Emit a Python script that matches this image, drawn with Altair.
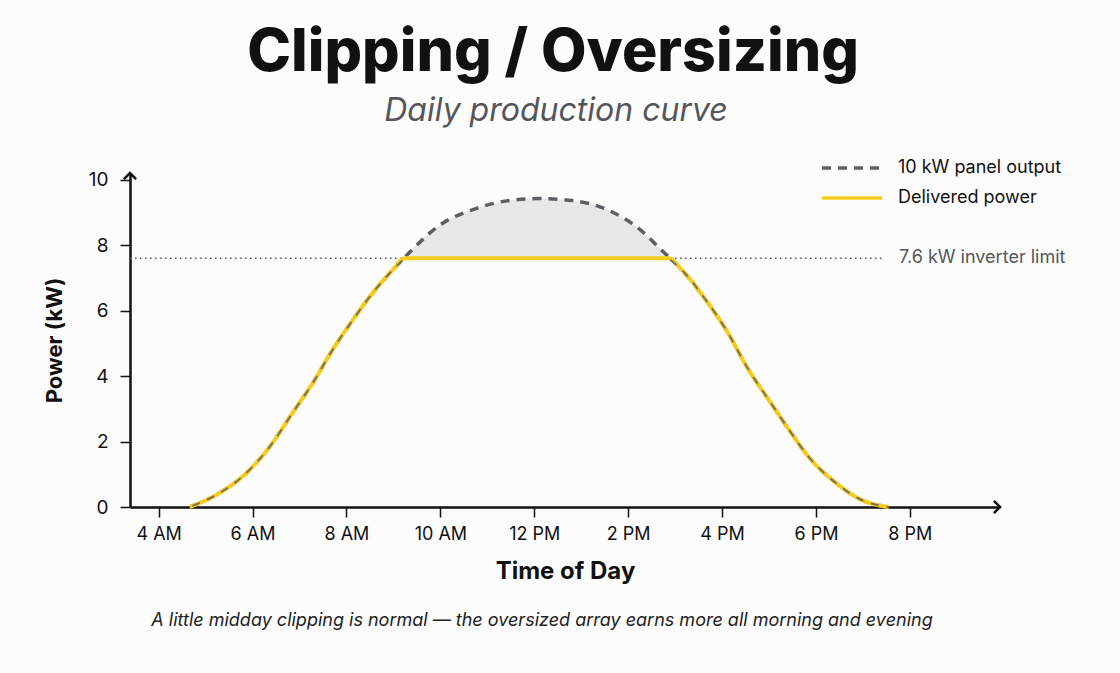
import altair as alt
import pandas as pd

# Panel output of a 10 kW array over the day (hour of day, kW)
panel_hours = [4.66, 5.30, 5.87, 6.36, 6.85, 7.28, 7.70, 8.13, 8.55, 8.98, 9.34,
               9.98, 10.77, 11.47, 12.11, 12.81, 13.60, 14.23, 14.72, 15.15,
               15.66, 16.09, 16.57, 17.00, 17.43, 17.85, 18.43, 18.98, 19.55]
panel_kw = [0.0, 0.43, 1.04, 1.83, 2.87, 3.78, 4.79, 5.70, 6.52, 7.23, 7.77,
            8.60, 9.12, 9.36, 9.42, 9.36, 9.05, 8.50, 7.83, 7.23,
            6.31, 5.40, 4.18, 3.26, 2.35, 1.52, 0.73, 0.21, 0.0]

# Inverter limit and the hours where the array crosses it
inverter_limit = 7.6
clip_start = 9.25
clip_end = 14.85

tick_hours = [4, 6, 8, 10, 12, 14, 16, 18, 20]
tick_labels = ["4 AM", "6 AM", "8 AM", "10 AM", "12 PM", "2 PM", "4 PM", "6 PM", "8 PM"]

PANEL = "10 kW panel output"
DELIVERED = "Delivered power"
LIMIT_LABEL = "7.6 kW inverter limit"

x_min, x_max = 3.39, 21.92
y_min, y_max = 0.0, 10.2
limit_line_end = 19.45
limit_label_x = 19.77

FONT = "Inter"
INK = "#111111"
GREY_LINE = "#5d5e64"
YELLOW = "#f6cb1c"
FILL = "#e7e7e9"

panel = pd.DataFrame({"hour": panel_hours, "kw": panel_kw, "series": PANEL})

# Delivered power: the panel curve capped at the inverter limit
deliv_rows = []
for h, k in zip(panel_hours, panel_kw):
    if h < clip_start or h > clip_end:
        deliv_rows.append((h, k))
deliv_rows += [(clip_start, inverter_limit), (clip_end, inverter_limit)]
deliv_rows.sort()
delivered = pd.DataFrame(deliv_rows, columns=["hour", "kw"])
delivered["series"] = DELIVERED

# Unclipped morning / evening stretches of the panel curve (thin overlay)
edge_rows = [(h, k, "morning" if h < clip_start else "evening")
             for h, k in zip(panel_hours, panel_kw) if h < clip_start or h > clip_end]
edge_rows += [(clip_start, inverter_limit, "morning"), (clip_end, inverter_limit, "evening")]
edges = pd.DataFrame(edge_rows, columns=["hour", "kw", "part"]).sort_values("hour")

# Clipped energy: the part of the panel curve above the limit
clip_rows = [(clip_start, inverter_limit)]
clip_rows += [(h, k) for h, k in zip(panel_hours, panel_kw) if clip_start < h < clip_end]
clip_rows += [(clip_end, inverter_limit)]
clipped = pd.DataFrame(clip_rows, columns=["hour", "kw"])
clipped["limit"] = inverter_limit

label_expr = " : ".join(
    f"datum.value == {h} ? '{t}'" for h, t in zip(tick_hours, tick_labels)
) + " : ''"

x_scale = alt.Scale(domain=[x_min, x_max], nice=False, zero=False)
y_scale = alt.Scale(domain=[y_min, y_max], nice=False)

x_axis = alt.Axis(
    values=tick_hours, labelExpr=label_expr, title="Time of Day",
    grid=False, domainColor=INK, domainWidth=2.5, tickColor=INK, tickWidth=1.5,
    tickSize=10, labelFontSize=18, labelColor=INK, labelFont=FONT, labelPadding=8,
    titleFontSize=24, titleFont=FONT, titleFontWeight="bold", titleColor=INK,
    titlePadding=16,
)
y_axis = alt.Axis(
    values=[0, 2, 4, 6, 8, 10], title="Power (kW)", grid=False,
    domainColor=INK, domainWidth=2.5, tickColor=INK, tickWidth=1.5, tickSize=10,
    labelFontSize=19, labelColor=INK, labelFont=FONT, labelPadding=12,
    titleFontSize=22, titleFont=FONT, titleFontWeight="bold", titleColor=INK,
    titlePadding=22,
)

color_scale = alt.Scale(domain=[PANEL, DELIVERED], range=[GREY_LINE, YELLOW])
dash_scale = alt.Scale(domain=[PANEL, DELIVERED], range=[[9, 7], [1, 0]])
legend = alt.Legend(
    title=None, orient="none", legendX=690, legendY=-20, symbolType="stroke",
    symbolSize=3600, symbolStrokeWidth=3.5, labelFontSize=18, labelFont=FONT,
    labelColor=INK, labelOffset=14, rowPadding=0, clipHeight=30, labelLimit=400,
)

area = alt.Chart(clipped).mark_area(color=FILL, interpolate="monotone").encode(
    x=alt.X("hour:Q", scale=x_scale, axis=x_axis),
    y=alt.Y("kw:Q", scale=y_scale, axis=y_axis),
    y2="limit:Q",
)

limit_df = pd.DataFrame({"x0": [x_min], "x1": [limit_line_end], "kw": [inverter_limit],
                         "lx": [limit_label_x], "label": [LIMIT_LABEL]})
limit_rule = alt.Chart(limit_df).mark_rule(
    color="#555555", strokeWidth=1.5, strokeDash=[1.5, 3.5]
).encode(x="x0:Q", x2="x1:Q", y="kw:Q")
limit_text = alt.Chart(limit_df).mark_text(
    align="left", baseline="middle", fontSize=18, font=FONT, color="#55565b"
).encode(x="lx:Q", y="kw:Q", text="label:N")

panel_line = alt.Chart(panel).mark_line(strokeWidth=3.5, interpolate="monotone").encode(
    x="hour:Q", y="kw:Q",
    color=alt.Color("series:N", scale=color_scale, legend=legend),
    strokeDash=alt.StrokeDash("series:N", scale=dash_scale, legend=legend),
)
deliv_line = alt.Chart(delivered).mark_line(strokeWidth=4, interpolate="monotone").encode(
    x="hour:Q", y="kw:Q",
    color=alt.Color("series:N", scale=color_scale, legend=legend),
    strokeDash=alt.StrokeDash("series:N", scale=dash_scale, legend=legend),
)
edge_line = alt.Chart(edges).mark_line(
    strokeWidth=1.8, interpolate="monotone", color=GREY_LINE, opacity=0.85,
    strokeDash=[8, 8], strokeDashOffset=-3,
).encode(x="hour:Q", y="kw:Q", detail="part:N")

# Arrow heads at the far ends of both axes
arrows = pd.DataFrame({"hour": [x_max, x_min], "kw": [y_min, y_max], "dir": ["right", "up"]})
arrow_right = alt.Chart(arrows[arrows.dir == "right"]).mark_point(
    shape="M-1,-1L0,0L-1,1", size=150, filled=False, stroke=INK, strokeWidth=2.5, opacity=1
).encode(x="hour:Q", y="kw:Q")
arrow_up = alt.Chart(arrows[arrows.dir == "up"]).mark_point(
    shape="M-1,1L0,0L1,1", size=150, filled=False, stroke=INK, strokeWidth=2.5, opacity=1
).encode(x="hour:Q", y="kw:Q")

texts = pd.DataFrame({
    "t": ["Clipping / Oversizing", "Daily production curve",
          "A little midday clipping is normal \u2014 the oversized array earns more all morning and evening"],
})
title = alt.Chart(texts.iloc[[0]]).mark_text(
    fontSize=59, font=FONT, fontWeight=800, color=INK, align="center", baseline="alphabetic"
).encode(text="t:N", x=alt.value(423), y=alt.value(-102))
subtitle = alt.Chart(texts.iloc[[1]]).mark_text(
    fontSize=32, font=FONT, fontStyle="italic", color="#55565b", align="center", baseline="alphabetic"
).encode(text="t:N", x=alt.value(426), y=alt.value(-52))
caption = alt.Chart(texts.iloc[[2]]).mark_text(
    fontSize=18, font=FONT, fontStyle="italic", color="#222222", align="center", baseline="alphabetic"
).encode(text="t:N", x=alt.value(412), y=alt.value(453))

chart = alt.layer(
    area, limit_rule, limit_text, panel_line, deliv_line, edge_line,
    arrow_right, arrow_up, title, subtitle, caption,
).resolve_scale(color="shared", strokeDash="shared").properties(
    width=870, height=334,
    autosize=alt.AutoSizeParams(type="none"),
    padding={"left": 130, "top": 173, "right": 120, "bottom": 166},
    background="#fcfcfc",
).configure_view(stroke=None)

chart.save("out.html", embed_options={"renderer": "svg", "actions": False})
